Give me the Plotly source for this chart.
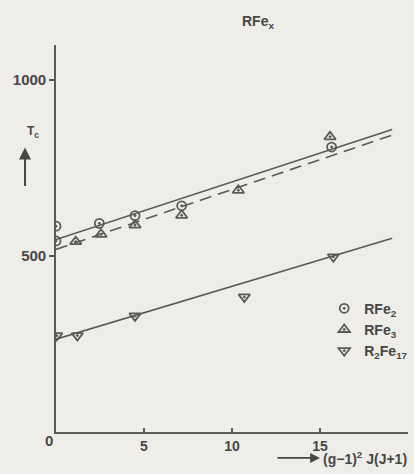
import plotly.graph_objects as go

# --- data ---
rfe2_x = [0.0, 0.0, 2.46, 4.49, 7.14, 15.66]
rfe2_y = [585, 543, 593, 615, 643, 810]

rfe3_x = [1.12, 2.56, 4.49, 7.14, 10.36, 15.57]
rfe3_y = [541, 562, 588, 616, 687, 839]

r2fe17_x = [0.04, 1.21, 4.49, 10.7, 15.76]
r2fe17_y = [274, 274, 330, 384, 498]

fit_x = [0.0, 19.1]
fit_rfe2 = [547, 860]
fit_rfe3 = [519, 844]
fit_r2fe17 = [264, 551]

x_ticks = [5, 10, 15]
y_ticks = [500, 1000]
origin_label = "0"

INK = "#474747"
LINE = "#5a5a5a"
BG = "#eeede8"
FONT = "Liberation Sans"

fig = go.Figure()

fig.add_trace(go.Scatter(x=fit_x, y=fit_rfe2, mode="lines",
                         line=dict(color=LINE, width=1.6), showlegend=False, hoverinfo="skip"))
fig.add_trace(go.Scatter(x=fit_x, y=fit_rfe3, mode="lines",
                         line=dict(color=LINE, width=1.6, dash="12px,7px"), showlegend=False, hoverinfo="skip"))
fig.add_trace(go.Scatter(x=fit_x, y=fit_r2fe17, mode="lines",
                         line=dict(color=LINE, width=1.6), showlegend=False, hoverinfo="skip"))

fig.add_trace(go.Scatter(x=rfe2_x, y=rfe2_y, mode="markers", name="RFe<sub>2</sub>",
                         marker=dict(symbol="circle-open-dot", size=9, color=LINE,
                                     line=dict(width=1.8, color=LINE))))
fig.add_trace(go.Scatter(x=rfe3_x, y=rfe3_y, mode="markers", name="RFe<sub>3</sub>",
                         marker=dict(symbol="triangle-up-open-dot", size=10, color=LINE,
                                     line=dict(width=1.8, color=LINE))))
fig.add_trace(go.Scatter(x=r2fe17_x, y=r2fe17_y, mode="markers", name="R<sub>2</sub>Fe<sub>17</sub>",
                         marker=dict(symbol="triangle-down-open-dot", size=10, color=LINE,
                                     line=dict(width=1.8, color=LINE))))

fig.update_layout(
    width=414, height=474,
    margin=dict(l=56, r=6, t=45, b=42, autoexpand=False),
    paper_bgcolor=BG, plot_bgcolor=BG,
    font=dict(family=FONT, color=INK, size=14),
    showlegend=True,
    legend=dict(x=0.762, y=0.36, xanchor="left", yanchor="top",
                bgcolor="rgba(0,0,0,0)", itemwidth=30, tracegroupgap=0,
                font=dict(family=FONT, size=14, color=INK, weight="bold")),
    xaxis=dict(range=[0, 20], tickvals=x_ticks, ticktext=[str(v) for v in x_ticks],
               showgrid=False, zeroline=False, showline=True, linecolor=LINE, linewidth=1.6,
               ticks="inside", ticklen=4, tickcolor=LINE, tickwidth=1.5,
               tickfont=dict(family=FONT, size=14, color=INK, weight="bold")),
    yaxis=dict(range=[0, 1100], tickvals=y_ticks, ticktext=[str(v) for v in y_ticks],
               showgrid=False, zeroline=False, showline=True, linecolor=LINE, linewidth=1.6,
               ticks="outside", ticklen=5, tickcolor=LINE, tickwidth=1.5,
               tickfont=dict(family=FONT, size=15, color=INK, weight="bold")),
)

annots = [
    dict(text=origin_label, x=0, y=0, xref="x", yref="y", xshift=-7, yshift=-8,
         showarrow=False, font=dict(size=15, weight="bold")),
    dict(text="RFe<sub>x</sub>", x=0.575, y=1.059, xref="paper", yref="paper",
         yanchor="middle", showarrow=False, font=dict(size=14, weight="bold")),
    dict(text="T<sub>c</sub>", x=-0.088, y=0.775, xref="paper", yref="paper",
         yanchor="middle", showarrow=False, font=dict(size=12, weight="bold")),
    dict(text="", x=-0.088, y=0.735, xref="paper", yref="paper",
         showarrow=True, ax=0, ay=40, arrowhead=2, arrowsize=1.2, arrowwidth=2, arrowcolor=INK),
    dict(text="", x=0.75, y=-0.067, xref="paper", yref="paper",
         showarrow=True, ax=-44, ay=0, arrowhead=2, arrowsize=1.1, arrowwidth=1.8, arrowcolor=INK),
    dict(text="(g\u22121)<sup>2</sup> J(J+1)", x=0.752, y=-0.067, xref="paper", yref="paper",
         xanchor="left", yanchor="middle", showarrow=False, font=dict(size=14, weight="bold")),
]
fig.update_layout(annotations=annots)

fig.write_html("out.html")
